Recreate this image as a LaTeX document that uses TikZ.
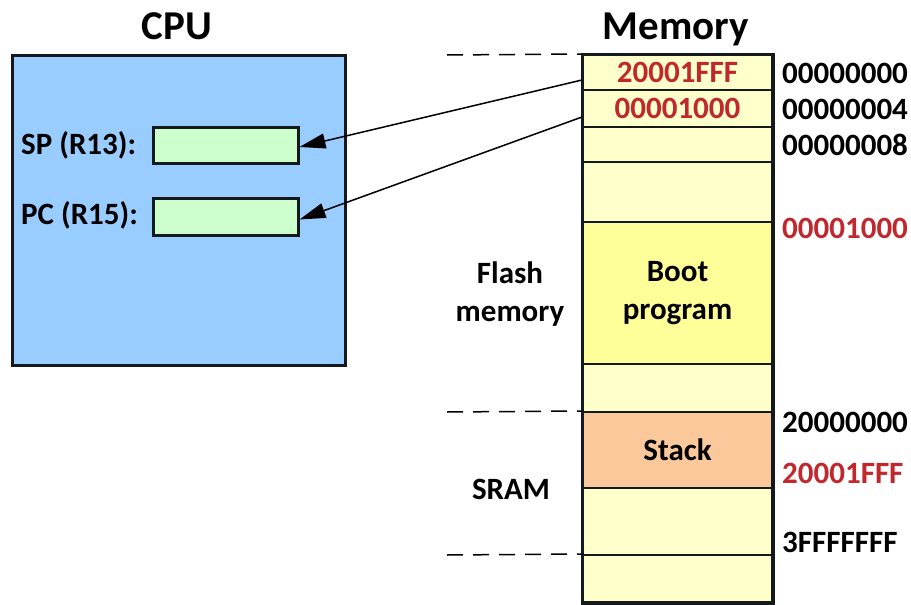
\documentclass[tikz,border=0pt]{standalone}
\usepackage{fontspec}
\setmainfont{Carlito}
\usetikzlibrary{arrows.meta}
\definecolor{cpublue}{RGB}{153,204,255}
\definecolor{reggreen}{RGB}{204,255,204}
\definecolor{cellyellow}{RGB}{255,255,204}
\definecolor{bootyellow}{RGB}{255,255,153}
\definecolor{stackpeach}{RGB}{250,200,155}
\definecolor{addrred}{RGB}{192,40,45}
\definecolor{edge}{RGB}{20,25,30}
\tikzset{
  txt/.style={font=\fontsize{31}{38}\selectfont\bfseries, inner sep=0pt},
  title/.style={font=\fontsize{41}{46}\selectfont\bfseries, inner sep=0pt, anchor=base},
  cpubox/.style={draw=edge, line width=3pt, fill=cpublue, inner sep=0pt},
  regbox/.style={draw=edge, line width=3pt, fill=reggreen, inner sep=0pt, minimum width=145pt},
  cell/.style={draw=edge, line width=2pt, fill=cellyellow, inner sep=0pt, minimum width=189pt,
    font=\fontsize{31}{38}\selectfont\bfseries, align=center},
  addr/.style={txt, anchor=west},
  redtxt/.style={text=addrred},
  boundary/.style={line width=1.5pt, dash pattern=on 16pt off 10pt},
  ptr/.style={line width=1.5pt, -{Triangle[length=26pt,width=15pt]}},
}
\begin{document}
\begin{tikzpicture}[x=1pt,y=-1pt]
\useasboundingbox (0,0) rectangle (911,605);
% titles
\node[title] (cputitle) at (177,39) {CPU};
\node[title] (memtitle) at (676,39) {Memory};
% CPU
\node[cpubox, minimum width=333pt, minimum height=310pt] (cpu) at (178.5,210) {};
\node[regbox, minimum height=36pt] (sp) at (225.5,145) {};
\node[regbox, minimum height=37pt] (pc) at (225.5,216.5) {};
\node[txt, anchor=base west] (splabel) at (21,154) {SP (R13):};
\node[txt, anchor=base west] (pclabel) at (21,224) {PC (R15):};
% memory cells
\node[cell, minimum height=35pt, text=addrred] (m1) at (677.5,72.5) {20001FFF};
\node[cell, minimum height=37pt, text=addrred] (m2) at (677.5,108.5) {00001000};
\node[cell, minimum height=35pt] (m3) at (677.5,144.5) {};
\node[cell, minimum height=60pt] (m4) at (677.5,192) {};
\node[cell, minimum height=142pt, fill=bootyellow] (m5) at (677.5,293) {Boot\\program};
\node[cell, minimum height=48pt] (m6) at (677.5,388) {};
\node[cell, minimum height=76pt, fill=stackpeach] (m7) at (677.5,450) {Stack};
\node[cell, minimum height=67pt] (m8) at (677.5,521.5) {};
\node[cell, minimum height=47pt] (m9) at (677.5,578.5) {};
\draw[draw=edge, line width=3pt] (m1.north west) rectangle (m9.south east);
% region labels
\node[txt, align=center] (flash) at (510,294) {Flash\\memory};
\node[txt] (sram) at (511,489) {SRAM};
% boundaries
\coordinate (b1) at (447,55);
\coordinate (b2) at (447,412);
\coordinate (b3) at (447,555);
\draw[boundary] (b1) -- (m1.north west);
\draw[boundary] (b2) -- (m7.north west);
\draw[boundary] (b3) -- (m9.north west);
% addresses
\node[addr] (a1) at (782,73) {00000000};
\node[addr] (a2) at (782,109) {00000004};
\node[addr] (a3) at (782,145) {00000008};
\node[addr, redtxt] (a4) at (782,228) {00001000};
\node[addr] (a5) at (782,422) {20000000};
\node[addr, redtxt] (a6) at (782,473) {20001FFF};
\node[addr] (a7) at (782,542) {3FFFFFFF};
% pointers
\draw[ptr] ([yshift=-7.5pt]m1.west) -- ([yshift=-2pt]sp.east);
\draw[ptr] ([yshift=-8.5pt]m2.west) -- ([yshift=-3pt]pc.east);
\end{tikzpicture}
\end{document}
